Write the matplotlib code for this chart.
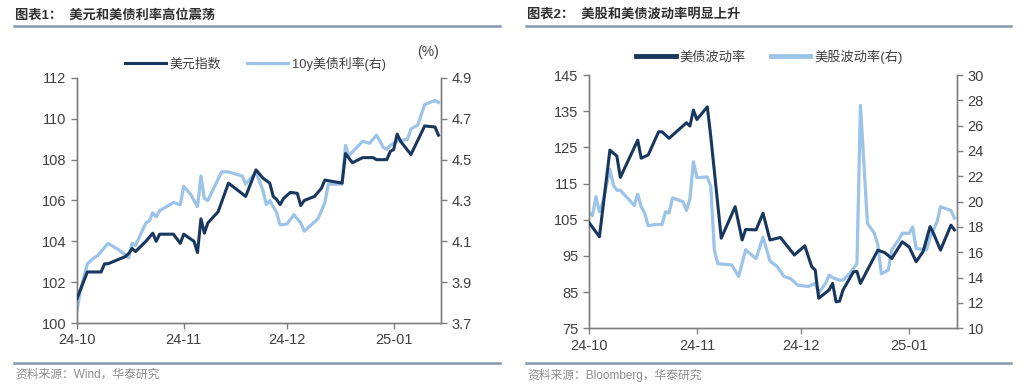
import matplotlib
matplotlib.use("Agg")
import matplotlib.pyplot as plt
import pandas as pd
from matplotlib.lines import Line2D

plt.rcParams["font.family"] = ["Liberation Sans", "Noto Sans CJK SC"]

DARK = "#17375e"
LIGHT = "#9cc3e8"
TEXT = "#404040"

# 图表1：美元指数 / 10y 美债利率
usd_dates = ["2024-10-01", "2024-10-04", "2024-10-08", "2024-10-09", "2024-10-10", "2024-10-15",
             "2024-10-16", "2024-10-17", "2024-10-18", "2024-10-21", "2024-10-23", "2024-10-24",
             "2024-10-25", "2024-10-29", "2024-10-31", "2024-11-01", "2024-11-04", "2024-11-05",
             "2024-11-06", "2024-11-07", "2024-11-08", "2024-11-11", "2024-11-14", "2024-11-19",
             "2024-11-22", "2024-11-24", "2024-11-26", "2024-11-27", "2024-11-28", "2024-11-29",
             "2024-11-30", "2024-12-02", "2024-12-04", "2024-12-05", "2024-12-06", "2024-12-09",
             "2024-12-11", "2024-12-12", "2024-12-17", "2024-12-18", "2024-12-20", "2024-12-23",
             "2024-12-26", "2024-12-27", "2024-12-30", "2024-12-31", "2025-01-01", "2025-01-02",
             "2025-01-03", "2025-01-06", "2025-01-08", "2025-01-10", "2025-01-13", "2025-01-14"]
usd_vals = [101.2, 102.5, 102.5, 102.9, 102.9, 103.25, 103.4, 103.65, 103.5, 104.0, 104.4, 104.0,
            104.35, 104.35, 103.9, 104.35, 104.0, 103.45, 105.1, 104.4, 104.9, 105.45, 106.85, 106.2,
            107.5, 107.1, 106.85, 106.2, 106.05, 105.8, 106.1, 106.4, 106.35, 105.75, 106.0, 106.2,
            106.6, 107.0, 106.85, 108.3, 107.85, 108.1, 108.1, 108.0, 108.0, 108.4, 108.5, 109.25,
            108.9, 108.25, 108.95, 109.65, 109.6, 109.2]

ust_dates = ["2024-10-01", "2024-10-02", "2024-10-04", "2024-10-06", "2024-10-07", "2024-10-08",
             "2024-10-10", "2024-10-13", "2024-10-16", "2024-10-17", "2024-10-18", "2024-10-21",
             "2024-10-22", "2024-10-23", "2024-10-24", "2024-10-25", "2024-10-27", "2024-10-29",
             "2024-10-31", "2024-11-01", "2024-11-03", "2024-11-04", "2024-11-05", "2024-11-06",
             "2024-11-07", "2024-11-08", "2024-11-12", "2024-11-14", "2024-11-18", "2024-11-19",
             "2024-11-22", "2024-11-24", "2024-11-25", "2024-11-26", "2024-11-28", "2024-11-29",
             "2024-12-01", "2024-12-03", "2024-12-05", "2024-12-06", "2024-12-08", "2024-12-10",
             "2024-12-12", "2024-12-13", "2024-12-15", "2024-12-17", "2024-12-18", "2024-12-19",
             "2024-12-23", "2024-12-25", "2024-12-27", "2024-12-29", "2024-12-30", "2024-12-31",
             "2025-01-02", "2025-01-05", "2025-01-06", "2025-01-08", "2025-01-10", "2025-01-13",
             "2025-01-14"]
ust_vals = [3.76, 3.86, 3.99, 4.02, 4.03, 4.05, 4.09, 4.06, 4.02, 4.09, 4.08, 4.19,
            4.20, 4.24, 4.22, 4.25, 4.27, 4.29, 4.28, 4.37, 4.33, 4.30, 4.27, 4.42,
            4.31, 4.30, 4.44, 4.44, 4.42, 4.38, 4.44, 4.35, 4.28, 4.30, 4.24, 4.18,
            4.185, 4.23, 4.19, 4.15, 4.18, 4.21, 4.29, 4.38, 4.38, 4.38, 4.57, 4.52,
            4.59, 4.58, 4.62, 4.56, 4.55, 4.57, 4.59, 4.60, 4.65, 4.67, 4.77, 4.79,
            4.78]

# 图表2：美债波动率 (MOVE) / 美股波动率 (VIX)
move_dates = ["2024-10-01", "2024-10-04", "2024-10-07", "2024-10-09", "2024-10-10", "2024-10-15",
              "2024-10-16", "2024-10-18", "2024-10-21", "2024-10-22", "2024-10-24", "2024-10-29",
              "2024-10-30", "2024-10-31", "2024-11-01", "2024-11-04", "2024-11-05", "2024-11-08",
              "2024-11-12", "2024-11-14", "2024-11-15", "2024-11-18", "2024-11-20", "2024-11-22",
              "2024-11-25", "2024-11-29", "2024-12-02", "2024-12-04", "2024-12-05", "2024-12-06",
              "2024-12-09", "2024-12-10", "2024-12-11", "2024-12-12", "2024-12-13", "2024-12-16",
              "2024-12-17", "2024-12-18", "2024-12-20", "2024-12-23", "2024-12-25", "2024-12-27",
              "2024-12-30", "2025-01-01", "2025-01-03", "2025-01-05", "2025-01-07", "2025-01-08",
              "2025-01-10", "2025-01-13", "2025-01-14"]
move_vals = [104.2, 100.3, 124.25, 122.6, 116.7, 127.0, 122.0, 122.9, 129.3, 129.3, 127.5, 131.8,
             130.9, 135.3, 132.7, 136.2, 127.9, 99.9, 108.6, 99.4, 102.3, 102.2, 106.8, 99.4,
             100.1, 95.25, 97.8, 92.0, 91.1, 83.3, 85.6, 87.4, 82.3, 82.5, 85.6, 90.6,
             90.7, 87.4, 91.1, 96.6, 95.9, 94.3, 98.9, 97.5, 93.4, 96.2, 103.1, 101.2,
             96.6, 103.5, 102.2]

vix_dates = ["2024-10-01", "2024-10-02", "2024-10-03", "2024-10-04", "2024-10-05", "2024-10-07",
             "2024-10-08", "2024-10-09", "2024-10-10", "2024-10-14", "2024-10-15", "2024-10-16",
             "2024-10-17", "2024-10-18", "2024-10-20", "2024-10-22", "2024-10-23", "2024-10-24",
             "2024-10-25", "2024-10-28", "2024-10-29", "2024-10-30", "2024-10-31", "2024-11-01",
             "2024-11-04", "2024-11-05", "2024-11-06", "2024-11-07", "2024-11-11", "2024-11-13",
             "2024-11-15", "2024-11-18", "2024-11-20", "2024-11-22", "2024-11-24", "2024-11-26",
             "2024-11-28", "2024-11-30", "2024-12-03", "2024-12-05", "2024-12-06", "2024-12-08",
             "2024-12-09", "2024-12-10", "2024-12-12", "2024-12-13", "2024-12-15", "2024-12-17",
             "2024-12-18", "2024-12-20", "2024-12-22", "2024-12-23", "2024-12-24", "2024-12-26",
             "2024-12-27", "2024-12-29", "2024-12-30", "2025-01-01", "2025-01-02", "2025-01-03",
             "2025-01-06", "2025-01-07", "2025-01-09", "2025-01-10", "2025-01-13", "2025-01-14"]
vix_vals = [19.1, 18.9, 20.4, 19.2, 20.0, 22.55, 21.3, 20.9, 20.9, 19.7, 20.6, 19.6,
            19.1, 18.1, 18.2, 18.2, 19.2, 19.1, 20.3, 20.0, 19.3, 20.2, 23.15, 21.9,
            21.95, 21.2, 16.2, 15.1, 15.0, 14.1, 16.2, 15.5, 17.2, 15.3, 14.9, 14.1,
            13.9, 13.4, 13.3, 13.55, 12.8, 13.55, 14.2, 14.0, 13.8, 13.8, 14.35, 15.1,
            27.6, 18.3, 17.5, 16.6, 14.3, 14.6, 16.2, 17.0, 17.5, 17.5, 18.0, 16.3,
            16.2, 17.2, 18.4, 19.6, 19.3, 18.7]

month_ticks = ["2024-10-01", "2024-11-01", "2024-12-01", "2025-01-01"]
month_labels = ["24-10", "24-11", "24-12", "25-01"]


def style_axes(ax, ax2):
    ax.spines["top"].set_visible(False)
    ax2.spines["top"].set_visible(False)
    for a in (ax, ax2):
        for s in ("left", "right", "bottom"):
            a.spines[s].set_color("#7f7f7f")
            a.spines[s].set_linewidth(1.0)
        a.tick_params(colors="#7f7f7f", labelcolor=TEXT, labelsize=10.5, length=4, width=1.0)
    ax.set_xticks(pd.to_datetime(month_ticks))
    ax.set_xticklabels(month_labels)
    ax.set_xlim(pd.Timestamp("2024-10-01"), pd.Timestamp("2025-01-14 18:00"))


fig = plt.figure(figsize=(10.24, 3.88), dpi=100)

# ---------------- 图表1 ----------------
ax1 = fig.add_axes([0.0752, 0.1675, 0.3555, 0.6315])
ax1r = ax1.twinx()
l1, = ax1.plot(pd.to_datetime(usd_dates), usd_vals, color=DARK, lw=2.2, label="美元指数", zorder=3)
l2, = ax1r.plot(pd.to_datetime(ust_dates), ust_vals, color=LIGHT, lw=2.3, label="10y美债利率(右)")
ax1.set_zorder(ax1r.get_zorder() + 1)
ax1.patch.set_visible(False)
ax1.set_ylim(100, 112)
ax1.set_yticks(range(100, 113, 2))
ax1r.set_ylim(3.7, 4.9)
ax1r.set_yticks([3.7, 3.9, 4.1, 4.3, 4.5, 4.7, 4.9])
ax1r.set_yticklabels(["3.7", "3.9", "4.1", "4.3", "4.5", "4.7", "4.9"])
style_axes(ax1, ax1r)
ax1.legend(handles=[l1, l2], loc="lower center", bbox_to_anchor=(0.49, 1.0), ncol=2,
           frameon=False, fontsize=9.3, handlelength=3.2, columnspacing=2.0,
           handletextpad=0.3, borderaxespad=0.15, labelcolor=TEXT)
fig.text(428 / 1024, 1 - 52 / 388, "(%)", ha="center", va="center", fontsize=10, color=TEXT)

# ---------------- 图表2 ----------------
ax2 = fig.add_axes([0.5752, 0.1539, 0.3594, 0.6528])
ax2r = ax2.twinx()
m1, = ax2.plot(pd.to_datetime(move_dates), move_vals, color=DARK, lw=2.2, label="美债波动率", zorder=3)
m2, = ax2r.plot(pd.to_datetime(vix_dates), vix_vals, color=LIGHT, lw=2.3, label="美股波动率(右)")
ax2.set_zorder(ax2r.get_zorder() + 1)
ax2.patch.set_visible(False)
ax2.set_ylim(75, 145)
ax2.set_yticks(range(75, 146, 10))
ax2r.set_ylim(10, 30)
ax2r.set_yticks(range(10, 31, 2))
style_axes(ax2, ax2r)
leg2 = ax2.legend(handles=[m1, m2], loc="lower center", bbox_to_anchor=(0.49, 1.0), ncol=2,
                  frameon=False, fontsize=9.5, handlelength=3.0, columnspacing=1.9,
                  handletextpad=0.3, borderaxespad=0.45, labelcolor=TEXT)
for h in leg2.legend_handles:
    h.set_linewidth(3.5)

# ---------------- 标题、分隔线、来源 ----------------
titles = ["图表1：  美元和美债利率高位震荡", "图表2：  美股和美债波动率明显上升"]
sources = ["资料来源：Wind，华泰研究", "资料来源：Bloomberg，华泰研究"]
for x0, x1, title, src in [(14, 500, titles[0], sources[0]), (526, 1011, titles[1], sources[1])]:
    fig.text(x0 / 1024 + 0.001, 1 - 15 / 388, title, ha="left", va="center",
             fontsize=9.5, fontweight="bold", color="#303030")
    fig.add_artist(Line2D([x0 / 1024, x1 / 1024], [1 - 26 / 388] * 2, color="#8497ab",
                          lw=1.8, transform=fig.transFigure))
    fig.add_artist(Line2D([x0 / 1024, x1 / 1024], [1 - 363 / 388] * 2, color="#8497ab",
                          lw=1.8, transform=fig.transFigure))
    fig.text(x0 / 1024 + 0.001, 1 - 375 / 388, src, ha="left", va="center",
             fontsize=8.5, color="#8c8c8c")

fig.savefig("out.png", dpi=100)
